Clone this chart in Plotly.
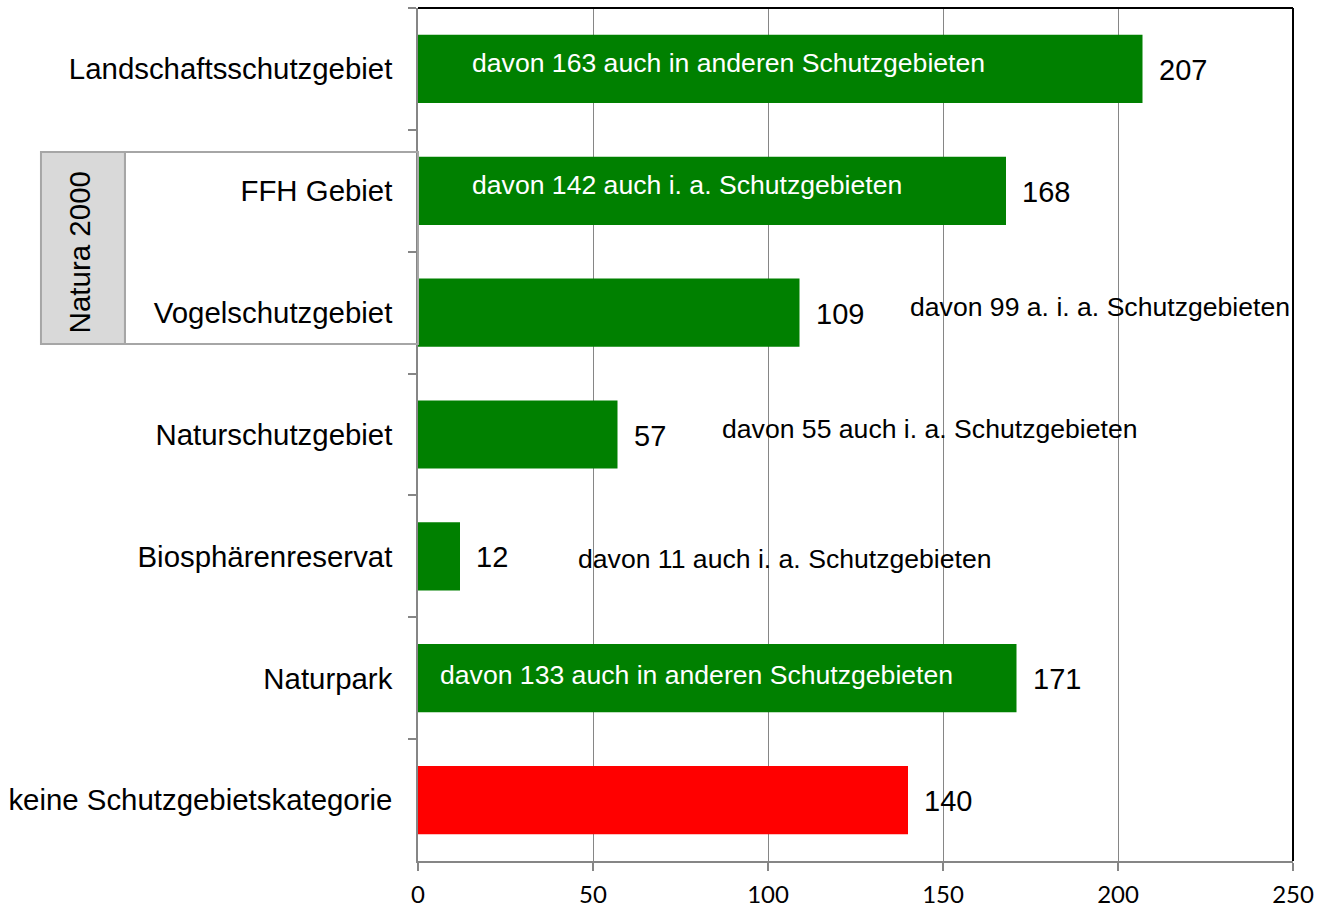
import plotly.graph_objects as go

# Schutzgebietskategorien (top to bottom) and counts
categories = [
    "Landschaftsschutzgebiet",
    "FFH Gebiet",
    "Vogelschutzgebiet",
    "Naturschutzgebiet",
    "Biosphärenreservat",
    "Naturpark",
    "keine Schutzgebietskategorie",
]
counts = [207, 168, 109, 57, 12, 171, 140]
bar_colors = ["#008000"] * 6 + ["#FF0000"]

# Overlap notes per category
notes = [
    "davon 163 auch in anderen Schutzgebieten",
    "davon 142 auch i. a. Schutzgebieten",
    "davon 99 a. i. a. Schutzgebieten",
    "davon 55 auch i. a. Schutzgebieten",
    "davon 11 auch i. a. Schutzgebieten",
    "davon 133 auch in anderen Schutzgebieten",
    None,
]
note_x = [14.8, 14.8, 140.0, 86.3, 45.1, 5.7, None]
note_yshift = [6, 6, 6, 6, -3, 3, 0]
note_inside = [True, True, False, False, False, True, False]

x_ticks = [0, 50, 100, 150, 200, 250]

LABEL_FONT = "Liberation Sans, Arial, sans-serif"
GRID = "#868686"

fig = go.Figure(
    go.Bar(
        x=counts,
        y=categories,
        orientation="h",
        marker=dict(color=bar_colors, line=dict(width=0)),
        width=0.56,
        hoverinfo="skip",
    )
)

annotations = []
for cat, val in zip(categories, counts):
    annotations.append(dict(
        x=val, y=cat, xref="x", yref="y", text=str(val), showarrow=False,
        xanchor="left", yanchor="middle", xshift=14, yshift=-1,
        font=dict(family=LABEL_FONT, size=29, color="#000000"),
    ))
for cat, txt, nx, ys, inside in zip(categories, notes, note_x, note_yshift, note_inside):
    if txt is None:
        continue
    annotations.append(dict(
        x=nx, y=cat, xref="x", yref="y", text=txt, showarrow=False,
        xanchor="left", yanchor="middle", yshift=ys,
        font=dict(family=LABEL_FONT, size=26.6,
                  color="#FFFFFF" if inside else "#000000"),
    ))

# Natura 2000 bracket label
annotations.append(dict(
    x=-0.3858, y=0.714, xref="paper", yref="paper", text="Natura 2000",
    showarrow=False, textangle=-90, xanchor="center", yanchor="middle",
    font=dict(family=LABEL_FONT, size=29.5, color="#000000"),
))

shapes = [
    # grey box holding the Natura 2000 label
    dict(type="rect", xref="paper", yref="paper", x0=-0.4309, x1=-0.3349,
         y0=0.6061, y1=0.8312, fillcolor="#D9D9D9",
         line=dict(color="#A6A6A6", width=2), layer="above"),
    # white frame around the two Natura 2000 categories
    dict(type="rect", xref="paper", yref="paper", x0=-0.3349, x1=0,
         y0=0.6061, y1=0.8312, fillcolor="rgba(0,0,0,0)",
         line=dict(color="#A6A6A6", width=2), layer="above"),
    # black frame on top and right edge of the plot area
    dict(type="line", xref="paper", yref="paper", x0=0, x1=1, y0=1, y1=1,
         line=dict(color="#000000", width=2)),
    dict(type="line", xref="paper", yref="paper", x0=1, x1=1, y0=0, y1=1,
         line=dict(color="#000000", width=2)),
]

fig.update_layout(
    width=1330,
    height=909,
    margin=dict(l=418, r=37, t=8, b=48, autoexpand=False),
    paper_bgcolor="#FFFFFF",
    plot_bgcolor="#FFFFFF",
    showlegend=False,
    bargap=0.44,
    annotations=annotations,
    shapes=shapes,
    xaxis=dict(
        range=[0, 250],
        tickvals=x_ticks,
        ticktext=[str(t) for t in x_ticks],
        showgrid=True, gridcolor=GRID, gridwidth=1,
        showline=True, linecolor=GRID, linewidth=1.5,
        ticks="outside", ticklen=8, tickcolor=GRID, tickwidth=1.5,
        ticklabelstandoff=3,
        tickfont=dict(family="Lato, sans-serif", size=24, color="#000000"),
        zeroline=False,
        automargin=False,
        fixedrange=True,
    ),
    yaxis=dict(
        categoryorder="array",
        categoryarray=categories,
        autorange="reversed",
        showgrid=False,
        showline=True, linecolor=GRID, linewidth=1.5,
        ticks="outside", ticklen=8, tickcolor=GRID, tickwidth=1.5,
        tickson="boundaries",
        ticklabelstandoff=18,
        tickfont=dict(family=LABEL_FONT, size=29.4, color="#000000"),
        automargin=False,
        fixedrange=True,
    ),
)

fig.write_html("out.html", config={"displayModeBar": False})
